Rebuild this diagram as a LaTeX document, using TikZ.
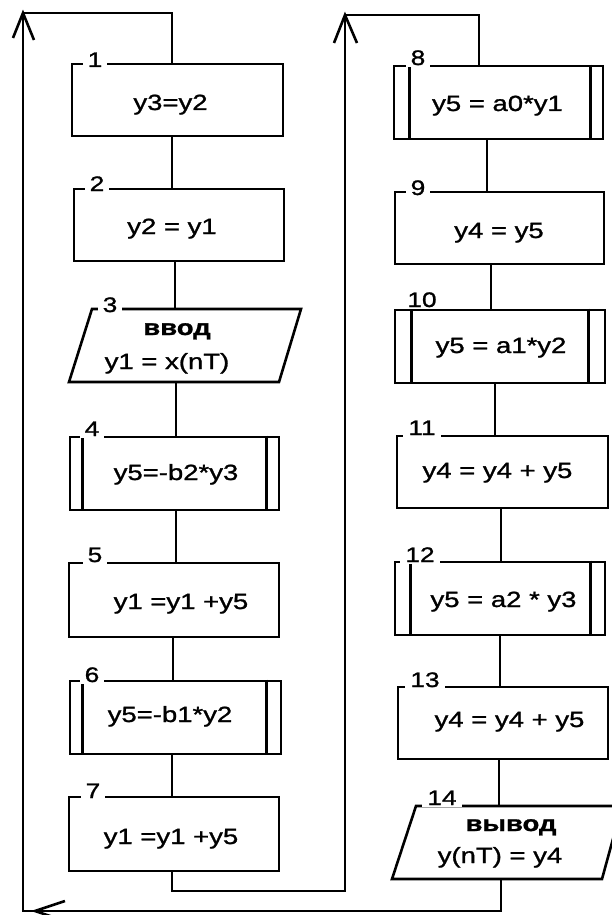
\documentclass[tikz,border=0pt]{standalone}
\usepackage{fontspec}
\setmainfont[FakeStretch=1.25, FakeBold=1.2, BoldFeatures={FakeBold=1.2}]{Liberation Sans}
\usetikzlibrary{fit}
\begin{document}
\begin{tikzpicture}[x=1pt,y=-1pt,
  ln/.style={line width=2.6pt},
  box/.style={draw, line width=2.6pt, inner sep=0pt, rectangle},
  txt/.style={anchor=base, inner sep=0pt, font=\fontsize{22}{25}\selectfont},
  btxt/.style={anchor=base, inner sep=0pt, font=\fontsize{22}{25}\selectfont\bfseries},
  num/.style={anchor=base, fill=white, inner xsep=5pt, inner ysep=2pt, font=\fontsize{21}{24}\selectfont}]
\useasboundingbox (0,0) rectangle (612,915);
\fill[white] (0,0) rectangle (612,915);

% left column boxes
\node[box, fit={(72,64) (283,136)}] (B1) {};
\node[box, fit={(74,189) (284,261)}] (B2) {};
\draw[ln] (92,309) coordinate (B3tl) -- (301,309) -- (279,382) -- (69,382) coordinate (B3bl) -- cycle;
\node[box, fit={(70,437) (279,510)}] (B4) {};
\node[box, fit={(69,563) (279,637)}] (B5) {};
\node[box, fit={(70,681) (281,754)}] (B6) {};
\node[box, fit={(69,797) (279,871)}] (B7) {};

% right column boxes
\node[box, fit={(394,66) (603,139)}] (B8) {};
\node[box, fit={(395,192) (604,264)}] (B9) {};
\node[box, fit={(395,310) (605,383)}] (B10) {};
\node[box, fit={(397,436) (608,508)}] (B11) {};
\node[box, fit={(395,562) (605,635)}] (B12) {};
\node[box, fit={(398,687) (608,759)}] (B13) {};
\draw[ln] (416,806) coordinate (B14tl) -- (622,806) -- (602,879) -- (392,879) coordinate (B14bl) -- cycle;

% predefined-process inner lines
\foreach \b/\l/\r in {B4/14/14, B6/14/16, B8/17/14, B10/18/18, B12/17/16}{
  \draw[ln] ([xshift=\l pt]\b.north west) -- ([xshift=\l pt]\b.south west);
  \draw[ln] ([xshift=-\r pt]\b.north east) -- ([xshift=-\r pt]\b.south east);
}

% connector columns
\coordinate (c12) at (172,0);
\coordinate (c23) at (175,0);
\coordinate (c34) at (176,0);
\coordinate (c45) at (176,0);
\coordinate (c56) at (173,0);
\coordinate (c67) at (172,0);
\coordinate (c89) at (487,0);
\coordinate (c910) at (491,0);
\coordinate (c1011) at (495,0);
\coordinate (c1112) at (501,0);
\coordinate (c1213) at (500,0);
\coordinate (c1314) at (499,0);

\draw[ln] (B1.south -| c12) -- (B2.north -| c12);
\draw[ln] (B2.south -| c23) -- (B3tl -| c23);
\draw[ln] (B3bl -| c34) -- (B4.north -| c34);
\draw[ln] (B4.south -| c45) -- (B5.north -| c45);
\draw[ln] (B5.south -| c56) -- (B6.north -| c56);
\draw[ln] (B6.south -| c67) -- (B7.north -| c67);
\draw[ln] (B8.south -| c89) -- (B9.north -| c89);
\draw[ln] (B9.south -| c910) -- (B10.north -| c910);
\draw[ln] (B10.south -| c1011) -- (B11.north -| c1011);
\draw[ln] (B11.south -| c1112) -- (B12.north -| c1112);
\draw[ln] (B12.south -| c1213) -- (B13.north -| c1213);
\draw[ln] (B13.south -| c1314) -- (B14tl -| c1314);

% loop B7 -> B8
\coordinate (L1) at (172,891);
\coordinate (R1) at (345,891);
\coordinate (R2) at (345,15);
\coordinate (R3) at (479,15);
\draw[ln] (B7.south -| L1) -- (L1) -- (R1) -- (R2) -- (R3) -- (R3 |- B8.north);
\draw[ln] (334,43) -- (R2) -- (357,43);

% loop B14 -> B1
\coordinate (Q1) at (501,911);
\coordinate (Q2) at (23,911);
\coordinate (Q3) at (23,13);
\coordinate (Q4) at (172,13);
\draw[ln] (B14bl -| Q1) -- (Q1) -- (Q2) -- (Q3) -- (Q4) -- (Q4 |- B1.north);
\draw[ln] (13,38) -- (Q3) -- (34,40);
\draw[ln] (65,901) -- (35,911) -- (65,921);

% texts
\node[txt] (T1) at (170.5,110) {y3=y2};
\node[txt] (T2) at (172,234) {y2 = y1};
\node[btxt] (T3a) at (177,335) {ввод};
\node[txt] (T3b) at (167,369) {y1 = x(nT)};
\node[txt] (T4) at (176,480) {y5=-b2*y3};
\node[txt] (T5) at (181,609) {y1 =y1 +y5};
\node[txt] (T6) at (170,722) {y5=-b1*y2};
\node[txt] (T7) at (171,844) {y1 =y1 +y5};
\node[txt] (T8) at (497.5,111) {y5 = a0*y1};
\node[txt] (T9) at (499,238) {y4 = y5};
\node[txt] (T10) at (501,353) {y5 = a1*y2};
\node[txt] (T11) at (497.5,478) {y4 = y4 + y5};
\node[txt] (T12) at (503.5,607) {y5 = a2 * y3};
\node[txt] (T13) at (509.5,727) {y4 = y4 + y5};
\node[btxt] (T14a) at (511,831) {вывод};
\node[txt] (T14b) at (500,863) {y(nT) = y4};

% numbers
\node[num] (N1) at (95,67) {1};
\node[num] (N2) at (97,191) {2};
\node[num] (N3) at (110,312) {3};
\node[num] (N4) at (92,436) {4};
\node[num] (N5) at (95,562) {5};
\node[num] (N6) at (92,682) {6};
\node[num] (N7) at (93,798) {7};
\node[num] (N8) at (418,65) {8};
\node[num] (N9) at (418,195) {9};
\node[num] (N10) at (422,307) {10};
\node[num] (N11) at (422,435) {11};
\node[num] (N12) at (420,562) {12};
\node[num] (N13) at (425,687) {13};
\node[num] (N14) at (442,805) {14};
\end{tikzpicture}
\end{document}
